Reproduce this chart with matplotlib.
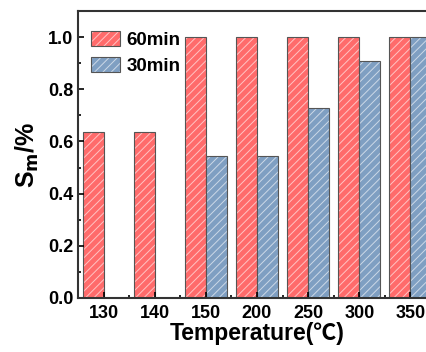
import numpy as np
import matplotlib
matplotlib.use('Agg')
import matplotlib.pyplot as plt
from matplotlib.patches import Patch
from matplotlib.legend_handler import HandlerTuple

plt.rcParams['font.family'] = ['Liberation Sans', 'Noto Sans CJK SC', 'DejaVu Sans']
plt.rcParams['font.weight'] = 'bold'
plt.rcParams['hatch.linewidth'] = 0.7

temps = ['130', '140', '150', '200', '250', '300', '350']
sm_60 = [0.636, 0.636, 1.0, 1.0, 1.0, 1.0, 1.0]
sm_30 = [0.0, 0.0, 0.545, 0.545, 0.727, 0.909, 1.0]

fig = plt.figure(figsize=(4.27, 3.52), dpi=100)
# axes runs past the right edge, like the cropped original
ax = fig.add_axes([78 / 427, (352 - 298) / 352, 358 / 427, 287 / 352])

x = np.arange(len(temps))
w = 0.41
red = '#ff6b6b'
blue = '#7f9fc2'
hatch_col = (1, 1, 1, 0.6)
edge = '#555555'
ax.bar(x - w / 2, sm_60, w, color=red, edgecolor=hatch_col, linewidth=0, hatch='////')
ax.bar(x - w / 2, sm_60, w, fill=False, edgecolor=edge, linewidth=0.8)
ax.bar(x + w / 2, sm_30, w, color=blue, edgecolor=hatch_col, linewidth=0, hatch='////')
ax.bar(x + w / 2, sm_30, w, fill=False, edgecolor=edge, linewidth=0.8)

handles = [(Patch(facecolor=red, edgecolor=hatch_col, linewidth=0, hatch='////'),
            Patch(fill=False, edgecolor=edge, linewidth=0.8)),
           (Patch(facecolor=blue, edgecolor=hatch_col, linewidth=0, hatch='////'),
            Patch(fill=False, edgecolor=edge, linewidth=0.8))]

ax.set_xlim(-0.5, len(temps) - 0.5)
ax.set_ylim(0, 1.1)
ax.set_xticks(x)
ax.set_xticklabels(temps)
ax.set_xticks(x[:-1] + 0.5, minor=True)
ax.set_yticks([0, 0.2, 0.4, 0.6, 0.8, 1.0])
ax.set_yticklabels(['0.0', '0.2', '0.4', '0.6', '0.8', '1.0'])
ax.set_yticks(np.arange(0.1, 1.1, 0.2), minor=True)
ax.tick_params(which='both', direction='in', labelsize=13, width=1.2)
ax.tick_params(which='major', length=4)
ax.tick_params(which='minor', length=2.5)
ax.tick_params(axis='x', which='major', pad=5)
for s in ax.spines.values():
    s.set_linewidth(1.5)
    s.set_color('#333333')

ax.set_xlabel('Temperature(℃)', fontsize=16.5, fontweight='bold', labelpad=0)
ax.set_ylabel('S$_\\mathbf{m}$/%', fontsize=18, fontweight='bold', labelpad=5)

ax.legend(handles=handles, labels=['60min', '30min'],
          handler_map={tuple: HandlerTuple(ndivide=1)},
          loc='upper left', frameon=False, fontsize=13.5,
          handlelength=1.55, handleheight=0.85, handletextpad=0.35,
          borderaxespad=0.3, labelspacing=0.4, bbox_to_anchor=(0.0, 0.975))

fig.savefig('out.png', dpi=100)
